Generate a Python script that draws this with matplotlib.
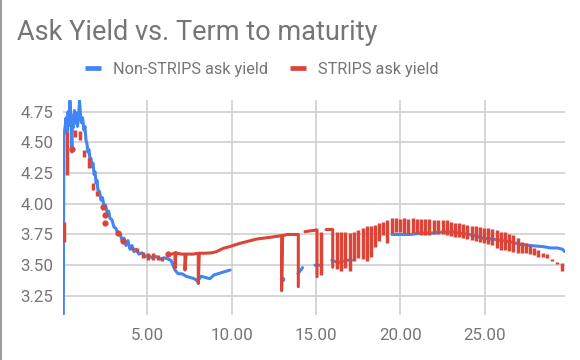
import numpy as np
import matplotlib.pyplot as plt
from matplotlib.lines import Line2D

plt.rcParams['font.family'] = ['Roboto', 'DejaVu Sans']

BLUE = '#4285F4'
RED = '#DB4437'
GREY = '#757575'
nan = np.nan

# Non-STRIPS ask yield (term in years, yield), nan = blank rows
nonstrips_t = [0.02, 0.05, 0.12, 0.18, 0.24, 0.30, 0.36, 0.41, 0.47, 0.53, 0.56, 0.62,
               0.68, 0.74, 0.80, 0.86, 0.92, 0.98, 1.04, 1.10, 1.16, 1.24, 1.30, 1.36,
               1.42, 1.48, 1.54, 1.60, 1.66, 1.72, 1.78, 1.84, 1.90, 1.96, 2.02, 2.07,
               2.16, 2.25, 2.34, 2.43, 2.52, 2.61, 2.70, 2.79, 2.90, 3.02, 3.14, 3.26,
               3.38, 3.50, 3.62, 3.73, 3.85, 3.97, 4.09, 4.21, 4.33, 4.50, 4.68, 4.86,
               5.04, 5.28, 5.51, 5.75, 5.99, 6.22, 6.40, 6.52, 6.64, 6.82, 7.05, 7.29,
               7.53, 7.77, 8.00, 8.18, 8.42, 8.71, 8.95, 9.19, 9.42, 9.66, 9.90,
               nan, 12.98, nan, 13.93, 14.20, nan, 14.94, 15.35, nan,
               15.94, 16.30, 16.80, 17.10, nan,
               19.50, 20.00, 20.60, 21.20, 21.80, 22.50, 23.10, 23.50, 24.10, 24.90,
               25.60, 26.50, 27.10, 27.70, 28.50, 28.90, 29.30, 29.60, 29.75]
nonstrips_y = [3.10, 4.55, 4.62, 4.70, 4.58, 4.75, 4.64, 4.84, 4.68, 4.42, 4.72, 4.62,
               4.76, 4.66, 4.74, 4.63, 4.70, 4.84, 4.72, 4.66, 4.70, 4.60, 4.63, 4.52,
               4.49, 4.42, 4.44, 4.36, 4.37, 4.30, 4.33, 4.24, 4.26, 4.17, 4.19, 4.11,
               4.10, 4.03, 4.05, 3.98, 3.99, 3.93, 3.94, 3.88, 3.87, 3.81, 3.80, 3.75,
               3.76, 3.70, 3.72, 3.66, 3.70, 3.63, 3.66, 3.61, 3.63, 3.59, 3.60, 3.57,
               3.58, 3.56, 3.57, 3.55, 3.56, 3.55, 3.54, 3.50, 3.46, 3.43, 3.43, 3.41,
               3.40, 3.39, 3.37, 3.41, 3.40, 3.39, 3.42, 3.43, 3.44, 3.45, 3.46,
               nan, 3.39, nan, 3.43, 3.48, nan, 3.50, 3.50, nan,
               3.54, 3.52, 3.54, 3.54, nan,
               3.75, 3.75, 3.75, 3.76, 3.76, 3.77, 3.77, 3.76, 3.75, 3.72,
               3.71, 3.69, 3.67, 3.66, 3.65, 3.64, 3.64, 3.63, 3.61]

# STRIPS ask yield, connected runs (nan = break)
strips_t = [6.45, 6.64, 6.64, 6.70, 7.00, 7.23, 7.23, 7.29, 7.70, 8.02, 8.02, 8.08,
            8.40, 8.80, 9.10, 9.50, 9.86, 10.50, 11.50, 12.30, 12.96, 12.96, 13.02,
            13.30, 13.90, 13.95, 13.95, nan,
            14.35, 15.06, 15.06, nan,
            15.60, 15.99, 15.99]
strips_y = [3.59, 3.60, 3.475, 3.60, 3.59, 3.59, 3.46, 3.59, 3.59, 3.597, 3.35, 3.597,
            3.597, 3.60, 3.61, 3.637, 3.65, 3.678, 3.713, 3.727, 3.74, 3.292, 3.74,
            3.75, 3.75, 3.75, 3.325, nan,
            3.773, 3.787, 3.406, nan,
            3.79, 3.79, 3.483]

# STRIPS pairs at the same maturity (high / low yield)
bar_t = [0.06, 0.25, 0.71, 1.01, 1.26, 1.54, 1.80, 2.04, 4.07, 4.37, 4.76, 5.06,
         5.35, 5.65, 5.85,
         15.29, 16.24, 16.47, 16.72, 17.01, 17.25, 17.49, 17.78, 18.02, 18.26,
         18.49, 18.73, 18.97, 19.21, 19.48, 19.74, 19.98, 20.23, 20.47, 20.77,
         21.00, 21.20, 21.46, 21.72, 21.99, 22.25, 22.51, 22.74, 22.98, 23.24,
         23.49, 23.73, 23.97, 24.22, 24.48, 24.72, 24.96, 25.21, 25.45, 25.71,
         25.96, 26.20, 26.46, 26.69, 26.95, 27.19, 27.45, 27.68, 27.92, 28.18,
         28.43, 28.67, 28.97, 29.26, 29.56]
bar_hi = [3.854, 4.587, 4.60, 4.59, 4.44, 4.375, 4.17, 4.10, 3.65, 3.64, 3.61, 3.597,
          3.597, 3.58, 3.57,
          3.773, 3.773, 3.773, 3.773, 3.76, 3.773, 3.787, 3.80, 3.815, 3.815,
          3.83, 3.84, 3.855, 3.87, 3.88, 3.88, 3.875, 3.88, 3.875, 3.88,
          3.875, 3.876, 3.873, 3.873, 3.868, 3.868, 3.868, 3.868, 3.854, 3.846,
          3.841, 3.833, 3.827, 3.822, 3.819, 3.808, 3.80, 3.80, 3.792, 3.787,
          3.773, 3.768, 3.752, 3.746, 3.719, 3.691, 3.678, 3.665, 3.637, 3.624,
          3.602, 3.591, 3.548, 3.529, 3.515]
bar_lo = [3.69, 4.235, 4.54, 4.52, 4.38, 4.29, 4.11, 4.06, 3.62, 3.61, 3.56, 3.54,
          3.54, 3.54, 3.53,
          3.42, 3.466, 3.45, 3.475, 3.455, 3.53, 3.56, 3.55, 3.53, 3.57,
          3.65, 3.70, 3.745, 3.68, 3.76, 3.77, 3.77, 3.76, 3.75, 3.76,
          3.76, 3.746, 3.746, 3.746, 3.752, 3.752, 3.752, 3.746, 3.738, 3.732,
          3.727, 3.719, 3.711, 3.705, 3.70, 3.691, 3.678, 3.67, 3.665, 3.637,
          3.624, 3.624, 3.618, 3.61, 3.602, 3.597, 3.597, 3.589, 3.583, 3.569,
          3.564, 3.556, 3.537, 3.510, 3.455]

# single STRIPS rows with no neighbour
dot_t = [0.51, 2.39, 2.49, 2.49, 3.28, 3.57, 6.24]
dot_y = [4.45, 3.976, 3.91, 3.846, 3.76, 3.70, 3.59]

fig = plt.figure(figsize=(5.8, 3.6), dpi=100)
ax = fig.add_axes([63 / 580, 45 / 360, 502 / 580, 215 / 360])

# blue series: line plus dots for isolated rows
bt = np.array(nonstrips_t)
by = np.array(nonstrips_y)
ax.plot(bt, by, color=BLUE, lw=2.2, solid_joinstyle='round', solid_capstyle='round', zorder=3)
iso = [i for i in range(len(by)) if not np.isnan(by[i])
       and (i == 0 or np.isnan(by[i - 1])) and (i == len(by) - 1 or np.isnan(by[i + 1]))]
ax.plot(bt[iso], by[iso], 'o', color=BLUE, ms=4, mew=0, zorder=3)

# red series
ax.plot(strips_t, strips_y, color=RED, lw=2.2, solid_joinstyle='round', solid_capstyle='round', zorder=4)
ax.vlines(bar_t, bar_lo, bar_hi, color=RED, lw=2.5, zorder=4)
ax.plot(dot_t, dot_y, 'o', color=RED, ms=4.5, mew=0, zorder=4)

ax.set_xlim(0, 29.76)
ax.set_ylim(3.094, 4.845)
ax.set_xticks([5, 10, 15, 20, 25])
ax.set_xticklabels(['5.00', '10.00', '15.00', '20.00', '25.00'])
ax.set_yticks([3.25, 3.5, 3.75, 4.0, 4.25, 4.5, 4.75])
ax.set_yticklabels(['3.25', '3.50', '3.75', '4.00', '4.25', '4.50', '4.75'])
ax.grid(True, color='#cccccc', lw=1.1)
ax.set_axisbelow(True)
for s in ax.spines.values():
    s.set_visible(False)
ax.tick_params(length=0, labelsize=12.2, labelcolor=GREY)
ax.tick_params(axis='y', pad=7)
ax.tick_params(axis='x', pad=9)

fig.text(17 / 580, 1 - 39.5 / 360, 'Ask Yield vs. Term to maturity', fontsize=19.5,
         color=GREY, va='baseline', ha='left')

handles = [Line2D([], [], color=BLUE, lw=3.4, solid_capstyle='butt'),
           Line2D([], [], color=RED, lw=3.4, solid_capstyle='butt')]
fig.legend(handles, ['Non-STRIPS ask yield', 'STRIPS ask yield'], loc='center',
           bbox_to_anchor=(262 / 580, 1 - 69.5 / 360), ncol=2, frameon=False,
           fontsize=11.7, labelcolor=GREY, handlelength=1.0, handletextpad=0.74,
           columnspacing=1.35)

fig.add_artist(Line2D([0.002, 0.002], [0, 1], color='#9e9e9e', lw=1.5))

fig.savefig('out.png', dpi=100)
